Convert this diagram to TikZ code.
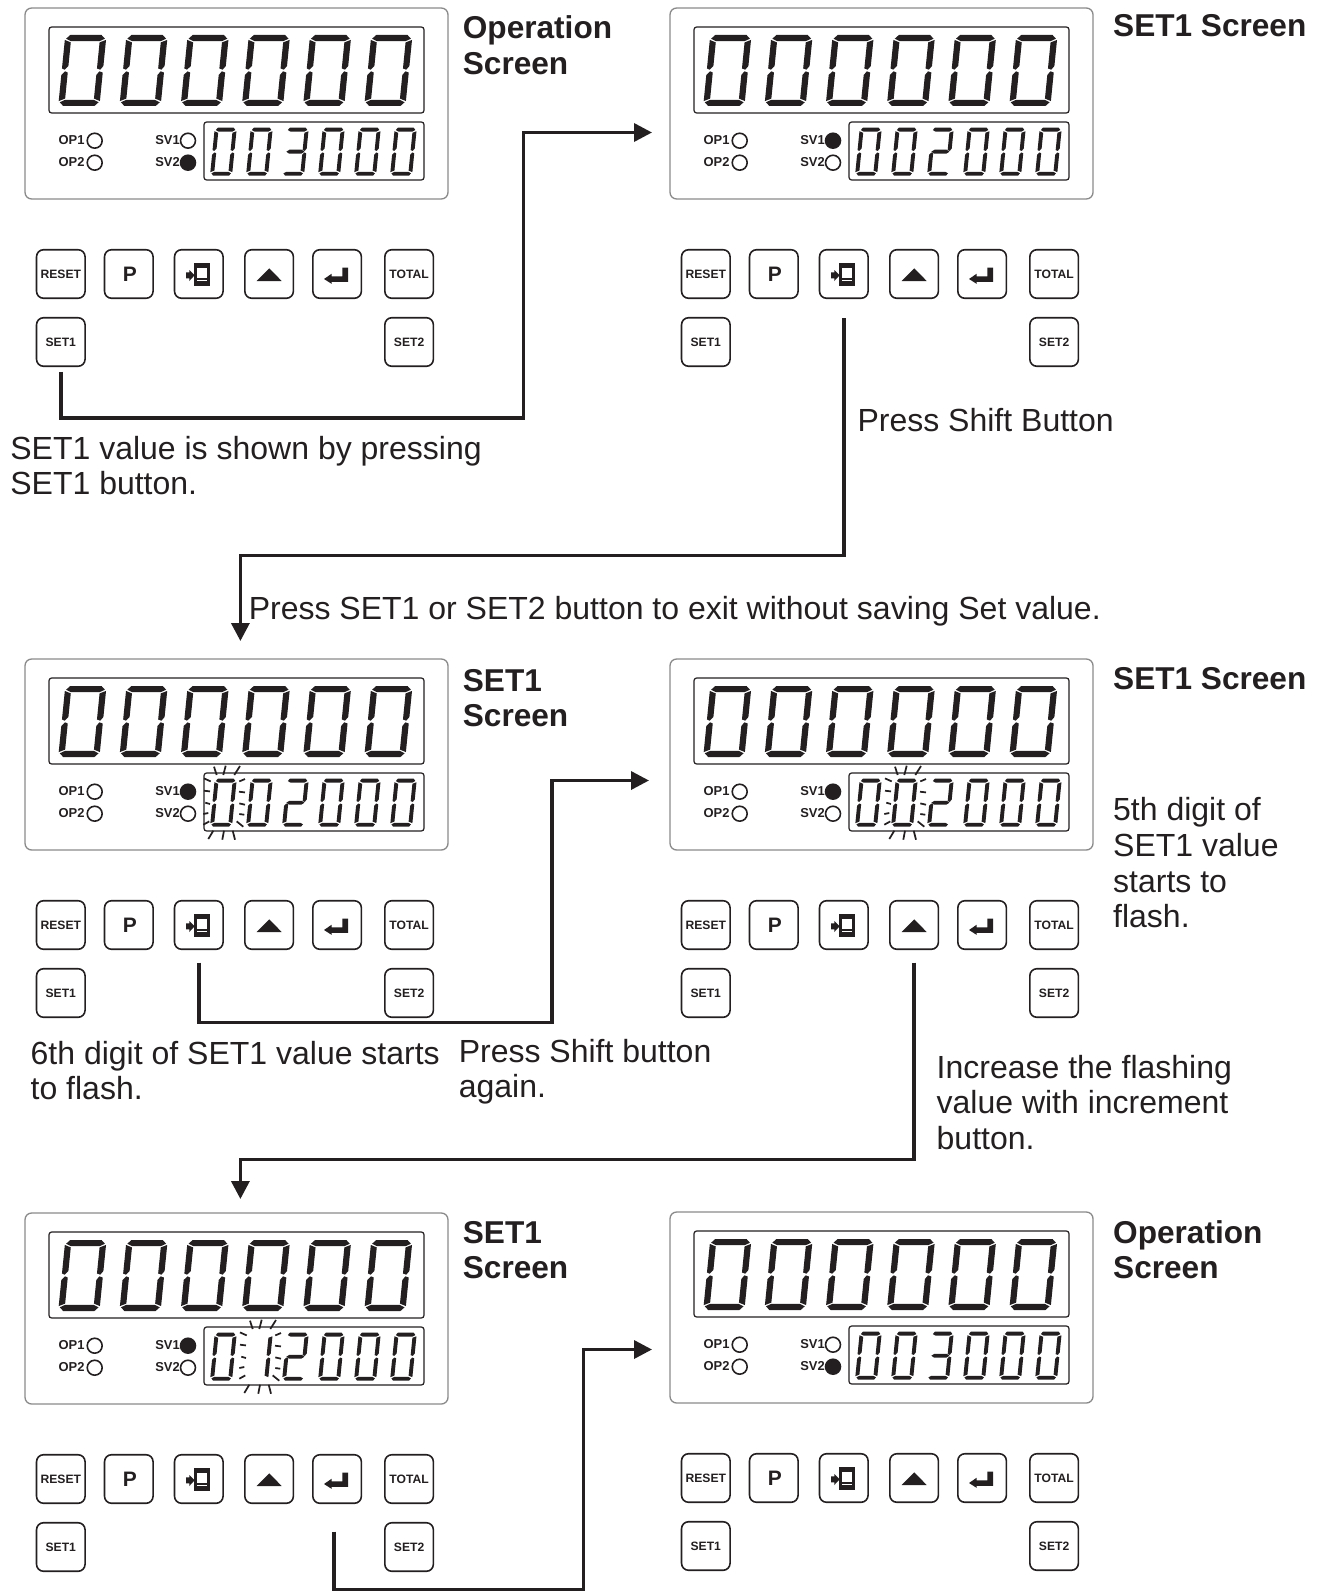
\documentclass[tikz,border=0pt]{standalone}
\usepackage{fontspec}
\setmainfont{Liberation Sans}
\usetikzlibrary{arrows.meta}
\definecolor{ink}{HTML}{231F20}
\definecolor{panelgray}{HTML}{8A8A8A}
\tikzset{
  panelbox/.style={draw=panelgray,line width=1pt,rounded corners=5pt,minimum width=317.25pt,minimum height=143.25pt,inner sep=0},
  bigbox/.style={draw=ink,line width=.9pt,rounded corners=2pt,minimum width=281.25pt,minimum height=64.5pt,inner sep=0},
  lowbox/.style={draw=ink,line width=.9pt,rounded corners=2pt,minimum width=165pt,minimum height=43.5pt,inner sep=0},
  keybtn/.style={draw=ink,line width=1.2pt,rounded corners=5.25pt,minimum size=36.4pt,inner sep=0,font=\bfseries\fontsize{9.1}{10}\selectfont,text=ink},
  ledlabel/.style={anchor=east,inner sep=0,font=\bfseries\fontsize{9.7}{10}\selectfont,text=ink},
  ledoff/.style={circle,draw=ink,line width=1.2pt,minimum size=11.2pt,inner sep=0},
  ledon/.style={ledoff,fill=ink},
  heading/.style={anchor=base west,inner sep=0,text=ink,font=\bfseries\fontsize{23.7}{26.8}\selectfont},
  note/.style={anchor=base west,inner sep=0,text=ink,font=\fontsize{24}{26.8}\selectfont},
  conn/.style={draw=ink,line width=2.6pt,-{Triangle[length=13.5pt,width=13.5pt]},shorten >=0pt},
  ray/.style={draw=ink,line width=1.3pt},
}
\newcommand{\kt}[1]{\raisebox{-1.7pt}{#1}}
% seven segments, origin top left of the unslanted digit
\newcommand{\sgA}{\fill[ink] ({1.2},{\tk*.6}) -- ({\tk*.8},0) -- ({\sgw-\tk*.8},0) -- ({\sgw-1.2},{\tk*.6}) -- ({\sgw-\tk-.2},\tk) -- ({\tk+.2},\tk) -- cycle;}
\newcommand{\sgD}{\fill[ink] ({1.2},{\sgh-\tk*.6}) -- ({\tk*.8},\sgh) -- ({\sgw-\tk*.8},\sgh) -- ({\sgw-1.2},{\sgh-\tk*.6}) -- ({\sgw-\tk-.2},{\sgh-\tk}) -- ({\tk+.2},{\sgh-\tk}) -- cycle;}
\newcommand{\sgF}{\fill[ink] (0,{\tk*.6+1.2}) -- (\tk,{\tk+1.2}) -- (\tk,{\sgh/2-\tk*.6-.8}) -- ({\tk*.45},{\sgh/2-.8}) -- (0,{\sgh/2-\tk*.2-.8}) -- cycle;}
\newcommand{\sgE}{\fill[ink] (0,{\sgh-\tk*.6-1.2}) -- (\tk,{\sgh-\tk-1.2}) -- (\tk,{\sgh/2+\tk*.2+.8}) -- ({\tk*.55},{\sgh/2+.8}) -- (0,{\sgh/2+\tk*.6+.8}) -- cycle;}
\newcommand{\sgB}{\fill[ink] (\sgw,{\tk*.6+1.2}) -- ({\sgw-\tk},{\tk+1.2}) -- ({\sgw-\tk},{\sgh/2-\tk*.2-.8}) -- ({\sgw-\tk*.45},{\sgh/2-.8}) -- (\sgw,{\sgh/2-\tk*.6-.8}) -- cycle;}
\newcommand{\sgC}{\fill[ink] (\sgw,{\sgh-\tk*.6-1.2}) -- ({\sgw-\tk},{\sgh-\tk-1.2}) -- ({\sgw-\tk},{\sgh/2+\tk*.6+.8}) -- ({\sgw-\tk*.55},{\sgh/2+.8}) -- (\sgw,{\sgh/2+\tk*.2+.8}) -- cycle;}
\newcommand{\sgG}{\fill[ink] ({\tk*.5},{\sgh/2}) -- ({\tk+1},{\sgh/2-\tk/2}) -- ({\sgw-\tk-1},{\sgh/2-\tk/2}) -- ({\sgw-\tk*.5},{\sgh/2}) -- ({\sgw-\tk-1},{\sgh/2+\tk/2}) -- ({\tk+1},{\sgh/2+\tk/2}) -- cycle;}
\newcommand{\dzero}{\sgA\sgB\sgC\sgD\sgE\sgF}
\newcommand{\dtwo}{\sgA\sgB\sgG\sgE\sgD}
\newcommand{\dthree}{\sgA\sgB\sgG\sgC\sgD}
\newcommand{\done}{\sgB\sgC}
\newcommand{\sevdig}[3]{\begin{scope}[shift={(#1,#2)},xslant=.1]#3\end{scope}}
% big row of six zeros
\newcommand{\bigrow}[2]{%
  \def\sgw{41.2}\def\sgh{71}\def\tk{6.2}%
  \foreach \n in {0,...,5}{\sevdig{#1+65.3+61.2*\n}{#2+35}{\dzero}}%
}
\newcommand{\lowrow}[8]{%
  \def\sgw{22}\def\sgh{48}\def\tk{3.9}%
  \sevdig{#1+214.8}{#2+127.7}{#3}\sevdig{#1+250.8}{#2+127.7}{#4}\sevdig{#1+286.8}{#2+127.7}{#5}%
  \sevdig{#1+322.8}{#2+127.7}{#6}\sevdig{#1+358.8}{#2+127.7}{#7}\sevdig{#1+394.8}{#2+127.7}{#8}%
}
\newcommand{\flash}[2]{%
  \begin{scope}[shift={(#1,#2)}]
  \foreach \ra/\rb/\rc/\rd in {4/-12/6.7/-3.7,15.7/-13/13.3/-3.7,30/-12.7/24.3/-3.7,
    .7/2.7/-6/-.3,0/12.7/-6/12,0/25.3/-4.7/24,-1.7/34.3/-6.7/35.3,-.7/42.7/-6.7/46,
    29.3/2.7/35/.3,29/13/35/13.7,29.3/24.7/35/26,29.3/35.3/34.3/36,26.7/42.7/33.3/48,
    3.3/52/-1.7/60.3,14/52/12.3/61,22.7/52/25/61}
    {\draw[ray] (\ra,\rb) -- (\rc,\rd);}
  \end{scope}%
}
% panel: prefix, dx, dy, style of SV1, style of SV2
\newcommand{\unitpanel}[5]{%
  \node[panelbox] (#1frame) at (#2+236.5,#3+103.5) {};
  \node[bigbox] (#1big) at (#2+236.5,#3+70) {};
  \node[lowbox] (#1low) at (#2+314,#3+151) {};
  \bigrow{#2}{#3}
  \node[ledlabel] (#1opa) at (#2+84.8,#3+140) {OP1};
  \node[ledlabel] (#1opb) at (#2+84.8,#3+162) {OP2};
  \node[ledlabel] (#1sva) at (#2+180,#3+140) {SV1};
  \node[ledlabel] (#1svb) at (#2+180,#3+162) {SV2};
  \node[ledoff] (#1ledopa) at (#2+94.7,#3+140.7) {};
  \node[ledoff] (#1ledopb) at (#2+94.7,#3+162.7) {};
  \node[#4] (#1ledsva) at (#2+188,#3+140.7) {};
  \node[#5] (#1ledsvb) at (#2+188,#3+162.7) {};
  \node[keybtn] (#1reset) at (#2+60.8,#3+274) {\kt{RESET}};
  \node[keybtn,font=\bfseries\fontsize{15.7}{16}\selectfont] (#1p) at (#2+128.8,#3+274) {\hspace*{1.4pt}\kt{P}};
  \node[keybtn] (#1shift) at (#2+198.8,#3+274) {};
  \node[keybtn] (#1up) at (#2+269.1,#3+274) {};
  \node[keybtn] (#1enter) at (#2+337.1,#3+274) {};
  \node[keybtn] (#1total) at (#2+409.1,#3+274) {\kt{TOTAL}};
  \node[keybtn] (#1set) at (#2+60.8,#3+342) {\kt{SET1}};
  \node[keybtn] (#1setb) at (#2+409.1,#3+342) {\kt{SET2}};
  \begin{scope}[shift={(#2+174.2,#3+249.5)}]
    \fill[ink] (20.1,13.8) rectangle (35.8,36.2);
    \fill[white] (23.1,18.2) rectangle (32.5,28.8);
    \fill[white] (23.1,30.2) rectangle (32.5,31);
    \fill[ink] (11.8,22.8) -- (15.1,22.8) -- (15.1,20.5) -- (20.5,25.7) -- (15.1,31.5) -- (15.1,28.8) -- (11.8,28.8) -- cycle;
  \end{scope}
  \fill[ink] (#2+256.7,#3+281) -- (#2+269.2,#3+268.3) -- (#2+281.7,#3+281) -- cycle;
  \begin{scope}[shift={(#2+312.3,#3+249.5)}]
    \fill[ink] (30,18.2) -- (35.8,18.2) -- (35.8,32.4) -- (19.4,32.4) -- (19.4,34.4) -- (11.7,29.5) -- (19.4,24.2) -- (19.4,26.8) -- (30,26.8) -- cycle;
  \end{scope}
}
\begin{document}
\begin{tikzpicture}[x=.75pt,y=-.75pt]
\useasboundingbox (0,0) rectangle (1327,1591);
\unitpanel{a}{0}{0}{ledoff}{ledon}
\lowrow{0}{0}{\dzero}{\dzero}{\dthree}{\dzero}{\dzero}{\dzero}
\unitpanel{b}{645}{0}{ledon}{ledoff}
\lowrow{645}{0}{\dzero}{\dzero}{\dtwo}{\dzero}{\dzero}{\dzero}
\unitpanel{c}{0}{651}{ledon}{ledoff}
\lowrow{0}{651}{\dzero}{\dzero}{\dtwo}{\dzero}{\dzero}{\dzero}
\flash{210}{778.7}
\unitpanel{d}{645}{651}{ledon}{ledoff}
\lowrow{645}{651}{\dzero}{\dzero}{\dtwo}{\dzero}{\dzero}{\dzero}
\flash{891}{778.7}
\unitpanel{e}{0}{1205}{ledon}{ledoff}
\lowrow{0}{1205}{\dzero}{\done}{\dtwo}{\dzero}{\dzero}{\dzero}
\flash{246}{1332.7}
\unitpanel{f}{645}{1204}{ledoff}{ledon}
\lowrow{645}{1204}{\dzero}{\dzero}{\dthree}{\dzero}{\dzero}{\dzero}
% headings
\node[heading] (h1) at (462.6,38.5) {\vtop{\hbox{Operation}\hbox{Screen}}};
\node[heading] (h2) at (1112.9,36.5) {SET1 Screen};
\node[heading] (h3) at (462.6,691) {\vtop{\hbox{SET1}\hbox{Screen}}};
\node[heading] (h4) at (1112.9,689) {SET1 Screen};
\node[heading] (h5) at (462.6,1243) {\vtop{\hbox{SET1}\hbox{Screen}}};
\node[heading] (h6) at (1112.9,1243) {\vtop{\hbox{Operation}\hbox{Screen}}};
% notes
\node[note] (n1) at (10.1,459) {\vtop{\hbox{SET1 value is shown by pressing}\hbox{SET1 button.}}};
\node[note] (n2) at (857.3,431) {Press Shift Button};
\node[note] (n3) at (248.5,619) {Press SET1 or SET2 button to exit without saving Set value.};
\node[note] (n4) at (1112.9,820.7) {\vtop{\hbox{5th digit of}\hbox{SET1 value}\hbox{starts to}\hbox{flash.}}};
\node[note] (n5) at (30.4,1064) {\vtop{\hbox{6th digit of SET1 value starts}\hbox{to flash.}}};
\node[note] (n6) at (458.5,1062) {\vtop{\hbox{Press Shift button}\hbox{again.}}};
\node[note] (n7) at (936.4,1078) {\vtop{\hbox{Increase the flashing}\hbox{value with increment}\hbox{button.}}};
% connector waypoints
\coordinate (k1) at (523.5,418);
\coordinate (t1) at (652,132.5);
\coordinate (k2) at (240.4,555.5);
\coordinate (t2) at (240.4,641);
\coordinate (k3) at (552,1022.6);
\coordinate (t3) at (649,780.5);
\coordinate (k4) at (240.4,1159.5);
\coordinate (t4) at (240.4,1199);
\coordinate (k5) at (583.3,1589.3);
\coordinate (t5) at (652,1349.5);
\draw[conn,shorten <=3.6pt] (aset.south) |- (k1) |- (t1);
\draw[conn,shorten <=14.2pt] (bshift.south) |- (k2) -- (t2);
\draw[conn,shorten <=9.4pt] (cshift.south) |- (k3) |- (t3);
\draw[conn,shorten <=9.4pt] (dup.south) |- (k4) -- (t4);
\draw[conn,shorten <=20.6pt] ([xshift=-2.4pt]eenter.south) |- (k5) |- (t5);
\end{tikzpicture}
\end{document}
